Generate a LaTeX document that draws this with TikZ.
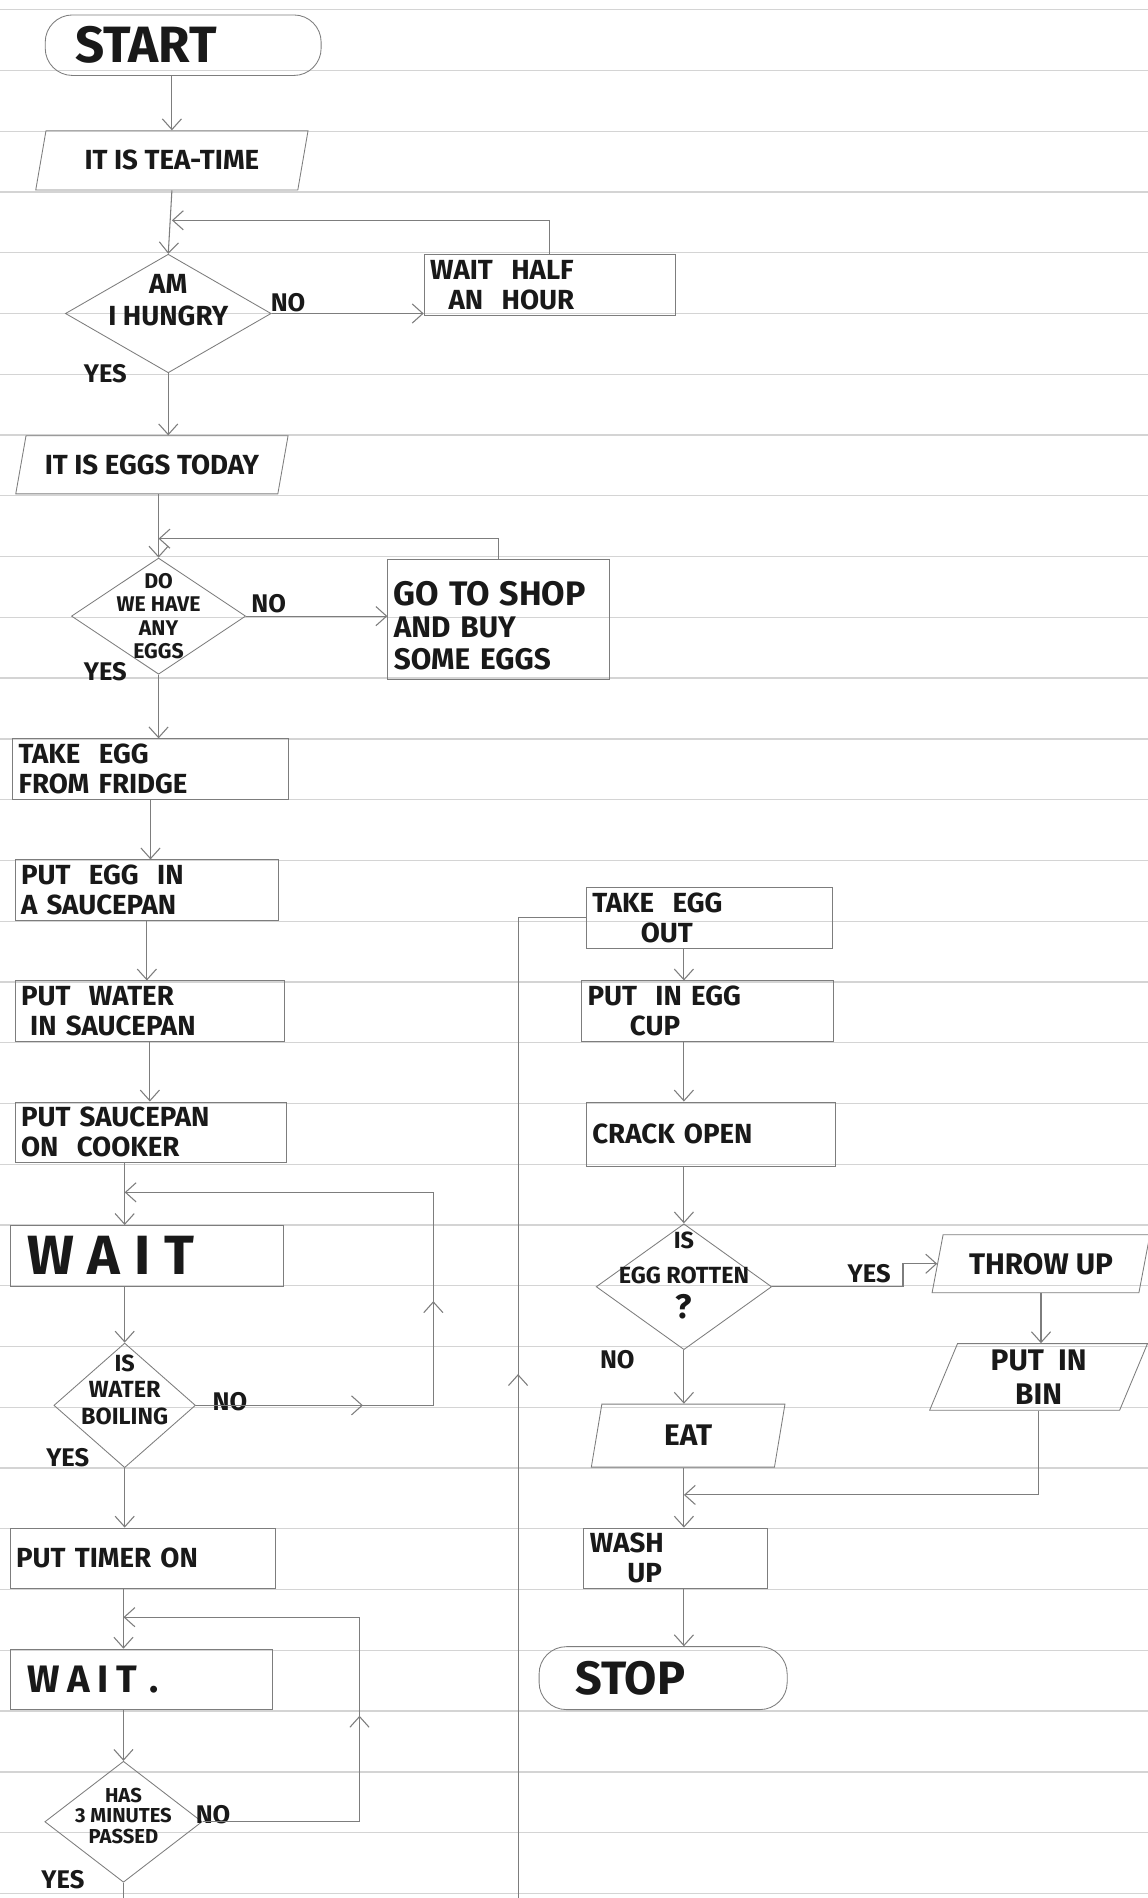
\documentclass[tikz,border=0pt]{standalone}
\usepackage{fontspec}
\setmainfont{Fira Sans}
\usetikzlibrary{arrows.meta,shapes.geometric,decorations.markings}

\definecolor{pencil}{RGB}{125,125,125}
\definecolor{ink}{RGB}{25,25,25}
\definecolor{ruling}{RGB}{212,212,212}

\begin{document}
\begin{tikzpicture}[x=.02cm,y=-.02cm,>={Straight Barb[length=5pt,width=9pt]},
  every node/.style={text=ink},
  box/.style={draw=pencil,anchor=north west,minimum height=1cm,inner xsep=.1cm,inner ysep=0pt,align=left,font=\fontsize{13}{14.2}\selectfont\bfseries},
  term/.style={draw=pencil,rounded corners=.45cm,anchor=north west,minimum height=1cm,inner ysep=0pt,align=left},
  para/.style={draw=pencil,trapezium,trapezium left angle=63,trapezium right angle=117,trapezium stretches body,inner sep=0pt,align=center,font=\fontsize{13}{15}\selectfont\bfseries},
  dia/.style={draw=pencil,diamond,inner sep=0pt},
  dtxt/.style={align=center,text=ink},
  lbl/.style={font=\fontsize{12}{12}\selectfont\bfseries},
  flow/.style={pencil,line width=.5pt,->},
  wire/.style={pencil,line width=.5pt},
  mid/.style={postaction={decorate,decoration={markings,mark=at position #1 with {\arrow{>}}}}}]
\path[fill=white,use as bounding box] (0,0) rectangle (948,1568);
% ruled paper
\foreach \k in {0,...,31}
  \draw[ruling,line width=.6pt] (0,{8+50.2*\k}) -- (948,{8+50.2*\k});

% left column
\node[term,inner xsep=.5cm,text width=3.56cm,font=\fontsize{24}{24}\selectfont\bfseries] (start) at (37,12) {START};
\node[para,minimum width=4.5cm,minimum height=.98cm] (tea) at (142,132.5) {IT IS TEA-TIME};
\node[dia,minimum width=3.4cm,minimum height=1.96cm,
  label={[dtxt,yshift=.22cm,font=\fontsize{13}{15}\selectfont\bfseries]center:AM\\I HUNGRY}] (hungry) at (139,259) {};
\node[box,text width=3.96cm] (half) at (350,210) {WAIT\ \ HALF\\\ \ AN\ \ HOUR};
\node[para,minimum width=4.5cm,minimum height=.96cm] (today) at (125.5,384) {IT IS EGGS TODAY};
\node[dia,minimum width=2.88cm,minimum height=1.92cm,
  label={[dtxt,font=\fontsize{10}{11}\selectfont\bfseries]center:DO\\WE HAVE\\ANY\\EGGS}] (eggs) at (131,509) {};
\node[box,text width=3.46cm,minimum height=1.98cm,font=\fontsize{14}{15}\selectfont\bfseries] (shop) at (320,462)
  {\mbox{}\\[.08cm]{\fontsize{16}{17}\selectfont GO TO SHOP}\\AND BUY\\SOME EGGS};
\node[box,text width=4.36cm] (fridge) at (10,610) {TAKE\ \ EGG\\FROM FRIDGE};
\node[box,text width=4.16cm] (pan) at (12,710) {PUT\ \ EGG\ \ IN\\A SAUCEPAN};
\node[box,text width=4.26cm] (water) at (12,810) {PUT\ \ WATER\\\ IN SAUCEPAN};
\node[box,text width=4.28cm] (cooker) at (12,910) {PUT SAUCEPAN\\ON\ \ COOKER};
\node[box,inner xsep=.28cm,text width=3.96cm,font=\fontsize{26}{26}\selectfont\bfseries\addfontfeature{LetterSpace=25}] (wait1) at (8,1012) {WAIT};
\node[dia,minimum width=2.34cm,minimum height=2.06cm,
  label={[dtxt,yshift=.26cm,font=\fontsize{11}{12.5}\selectfont\bfseries]center:IS\\WATER\\BOILING}] (boiling) at (103,1161) {};
\node[box,text width=4.18cm] (timer) at (8,1262) {PUT TIMER ON};
\node[box,inner xsep=.28cm,text width=3.78cm,font=\fontsize{18}{18}\selectfont\bfseries\addfontfeature{LetterSpace=20}] (wait2) at (8,1362) {WAIT .};
\node[dia,minimum width=2.6cm,minimum height=2cm,
  label={[dtxt,yshift=.1cm,font=\fontsize{9.5}{9.6}\selectfont\bfseries]center:HAS\\3 MINUTES\\PASSED}] (minutes) at (102,1505) {};

% right column
\node[box,text width=3.86cm] (out) at (484,733) {TAKE\ \ EGG\\\hspace*{.8cm}OUT};
\node[box,text width=3.96cm] (cup) at (480,810) {PUT\ \ IN EGG\\\hspace*{.7cm}CUP};
\node[box,text width=3.92cm,minimum height=1.06cm] (crack) at (484,910) {CRACK OPEN};
\node[dia,minimum width=2.9cm,minimum height=2.08cm,
  label={[dtxt,yshift=.18cm,font=\fontsize{11}{16.5}\selectfont\bfseries]center:IS\\EGG ROTTEN\\{\fontsize{16}{16}\selectfont ?}}] (rotten) at (565,1063) {};
\node[para,minimum width=3.6cm,minimum height=.96cm,font=\fontsize{14}{15}\selectfont\bfseries] (throw) at (860,1044) {THROW UP};
\node[para,minimum width=3.6cm,minimum height=1.1cm,font=\fontsize{14}{16}\selectfont\bfseries] (bin) at (858,1137.5) {PUT\ \ IN\\BIN};
\node[para,minimum width=3.2cm,minimum height=1.04cm,font=\fontsize{14}{15}\selectfont\bfseries] (eat) at (568.5,1186) {EAT};
\node[box,text width=2.84cm] (wash) at (482,1262) {WASH\\\hspace*{.62cm}UP};
\node[term,inner xsep=.6cm,text width=2.9cm,minimum height=1.04cm,font=\fontsize{22}{22}\selectfont\bfseries] (stop) at (445,1360) {STOP};

% yes / no
\node[lbl] (no1) at (238,250) {NO};
\node[lbl] (yes1) at (87,309) {YES};
\node[lbl] (no2) at (222,499) {NO};
\node[lbl] (yes2) at (87,555) {YES};
\node[lbl] (no3) at (190,1158) {NO};
\node[lbl] (yes3) at (56,1204) {YES};
\node[lbl] (no4) at (176,1499) {NO};
\node[lbl] (yes4) at (52,1553) {YES};
\node[lbl] (yes5) at (718,1052) {YES};
\node[lbl] (no5) at (510,1123) {NO};

% joins
\coordinate (j1) at (tea.south |- 0,182);
\coordinate (j2) at (eggs.north |- 0,445);
\coordinate (j3) at (boiling.north |- 0,985);
\coordinate (j4) at (minutes.north |- 0,1336);
\coordinate (j5) at (rotten.south |- 0,1235);
\coordinate (b1) at (minutes.south |- 0,1568);
\coordinate (b2) at (428,1568);

\draw[flow] (tea.north |- start.south) -- (tea.north);
\draw[flow] (tea.south) -- (hungry.north);
\draw[flow] (half.north) |- (j1);
\draw[flow] (hungry.east) -- (hungry.east -| half.west);
\draw[flow] (hungry.south) -- (hungry.south |- today.north);
\draw[flow] (eggs.north |- today.south) -- (eggs.north);
\draw[flow] (shop.north) |- (j2);
\draw[flow] (eggs.east) -- (eggs.east -| shop.west);
\draw[flow] (eggs.south) -- (eggs.south |- fridge.north);
\draw[flow] (fridge.south) -- (fridge.south |- pan.north);
\draw[flow] (pan.south) -- (pan.south |- water.north);
\draw[flow] (water.south) -- (water.south |- cooker.north);
\draw[flow] (boiling.north |- cooker.south) -- (boiling.north |- wait1.north);
\draw[flow,mid=.22,mid=.45] (boiling.east) -| (358,985) -- (j3);
\draw[flow] (boiling.north |- wait1.south) -- (boiling.north);
\draw[flow] (boiling.south) -- (boiling.south |- timer.north);
\draw[flow] (minutes.north |- timer.south) -- (minutes.north |- wait2.north);
\draw[flow,mid=.44] (minutes.east) -| (297,1336) -- (j4);
\draw[flow] (minutes.north |- wait2.south) -- (minutes.north);
\draw[wire] (minutes.south) -- (b1);
\draw[wire,mid=.5] (b2) |- (out.west);
\draw[flow] (rotten.north |- out.south) -- (rotten.north |- cup.north);
\draw[flow] (rotten.north |- cup.south) -- (rotten.north |- crack.north);
\draw[flow] (rotten.north |- crack.south) -- (rotten.north);
\draw[flow] (rotten.east) -- (746,1063) |- (throw.west);
\draw[flow] (throw.south) -- (throw.south |- bin.north);
\draw[flow] (bin.south) |- (j5);
\draw[flow] (rotten.south) -- (rotten.south |- eat.north);
\draw[flow] (rotten.south |- eat.south) -- (rotten.south |- wash.north);
\draw[flow] (rotten.south |- wash.south) -- (rotten.south |- stop.north);
\end{tikzpicture}
\end{document}
